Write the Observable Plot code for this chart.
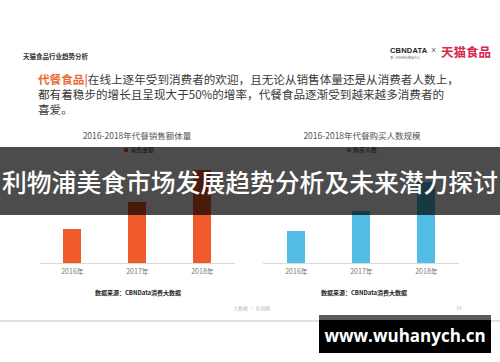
<!DOCTYPE html>
<html><head><meta charset="utf-8">
<script src="https://cdn.jsdelivr.net/npm/d3@7"></script>
<script src="https://cdn.jsdelivr.net/npm/@observablehq/plot@0.6"></script>
<style>
html,body{margin:0;padding:0;background:#fff;}
#page{position:relative;width:500px;height:362px;overflow:hidden;background:#fff;font-family:"Noto Sans CJK SC","Noto Sans",sans-serif;}
.abs{position:absolute;white-space:nowrap;}
#header{left:23px;top:51px;font-size:6.5px;font-weight:700;color:#333;}
.bl{position:absolute;left:38px;font-size:11.6px;line-height:13px;height:13px;color:#3a3a3a;white-space:nowrap;}
.bl b{color:#ea6a33;font-weight:700;}
#logo1{left:390px;top:46px;font-size:7.5px;font-weight:700;color:#222;letter-spacing:0.2px;font-family:"Liberation Sans",sans-serif;}
#logo1s{left:390px;top:56px;font-size:3px;color:#777;}
#logox{left:431px;top:45px;font-size:9px;color:#666;font-family:"Liberation Sans",sans-serif;}
#logo2{left:441px;top:42px;font-size:12.5px;font-weight:700;color:#d8284f;}
.ctitle{font-size:8.5px;color:#555;transform:translateX(-50%);top:129px;}
.legend{font-size:6px;color:#444;top:145px;}
.legend span{display:inline-block;width:4px;height:4px;margin-right:2px;vertical-align:middle;}
.source{font-size:6px;color:#222;font-weight:700;transform:translateX(-50%);top:288px;}
.plotbox{position:absolute;top:163px;}
#banner{left:0;top:147px;width:500px;height:68px;background:rgba(0,0,0,0.7);z-index:10;}
#bannertext{left:50%;top:147px;height:68px;line-height:68px;transform:translateX(-50%);font-size:24.8px;color:#fff;font-weight:500;z-index:11;}
#foot{left:233px;top:304px;font-size:5px;color:#bbb;}
#pageno{left:456px;top:304px;font-size:5px;color:#bbb;}
#hline{left:0;top:320px;width:500px;height:2px;background:#e2e2e2;}
#wm{left:319px;top:315px;width:172px;height:38px;background:#000;z-index:12;}
#wmtop{left:319px;top:315px;width:172px;height:5px;background:#5a5a5a;z-index:13;}
#wmtext{left:319px;top:318px;width:172px;height:35px;line-height:35px;text-align:center;font-size:17px;font-weight:700;color:#fff;z-index:14;font-family:"Open Sans","DejaVu Sans",sans-serif;}
</style></head>
<body>
<div id="page">
  <div class="abs" id="header">天猫食品行业趋势分析</div>
  <div class="bl" style="top:72.5px"><b>代餐食品|</b>在线上逐年受到消费者的欢迎，且无论从销售体量还是从消费者人数上，</div>
  <div class="bl" style="top:87.5px">都有着稳步的增长且呈现大于50%的增率，代餐食品逐渐受到越来越多消费者的</div>
  <div class="bl" style="top:102.5px">喜爱。</div>
  <div class="abs" id="logo1">CBNDATA</div>
  <div class="abs" id="logo1s">第一财经商业数据中心</div>
  <div class="abs" id="logox">×</div>
  <div class="abs" id="logo2">天猫食品</div>
  <div class="abs ctitle" id="t1" style="left:137px"></div>
  <div class="abs ctitle" id="t2" style="left:362px"></div>
  <div class="abs legend" id="l1" style="left:124px"></div>
  <div class="abs legend" id="l2" style="left:347px"></div>
  <div class="plotbox" id="p1" style="left:0px"></div>
  <div class="plotbox" id="p2" style="left:250px"></div>
  <div class="abs source" style="left:138px">数据来源：CBNData消费大数据</div>
  <div class="abs source" style="left:364px">数据来源：CBNData消费大数据</div>
  <div class="abs" id="banner"></div>
  <div class="abs" id="bannertext">利物浦美食市场发展趋势分析及未来潜力探讨</div>
  <div class="abs" id="foot">大数据 · 全洞察</div>
  <div class="abs" id="pageno">14</div>
  <div class="abs" id="hline"></div>
  <div class="abs" id="wm"></div>
  <div class="abs" id="wmtop"></div>
  <div class="abs" id="wmtext">www.wuhanych.cn</div>
</div>
<script>
const years = ["2016年", "2017年", "2018年"];
const salesValues = [34, 61, 93];   // 代餐销售额体量 (relative)
const buyerValues = [32, 52, 81];   // 代餐购买人数规模 (relative)
const titles = ["2016-2018年代餐销售额体量", "2016-2018年代餐购买人数规模"];
const legends = ["消费金额", "购买人数"];
const colors = ["#f15a2b", "#52bde5"];

function chart(values, color, ml, mr) {
  const data = years.map((y, i) => ({year: y, value: values[i]}));
  return Plot.plot({
    width: 250, height: 122,
    marginLeft: ml, marginRight: mr, marginTop: 0, marginBottom: 22,
    x: {domain: years, paddingInner: 0.72, paddingOuter: 0.36, tickSize: 0, tickPadding: 6, label: null},
    y: {domain: [0, 100], axis: null},
    style: {fontFamily: '"Noto Sans CJK SC", sans-serif', fontSize: "7px", color: "#777", background: "transparent", overflow: "visible"},
    marks: [
      Plot.barY(data, {x: "year", y: "value", fill: color}),
      Plot.ruleY([0], {stroke: "#d8d8d8", strokeWidth: 1})
    ]
  });
}

document.getElementById("p1").appendChild(chart(salesValues, colors[0], 40, 15));
document.getElementById("p2").appendChild(chart(buyerValues, colors[1], 13, 41));
document.getElementById("t1").textContent = titles[0];
document.getElementById("t2").textContent = titles[1];
document.getElementById("l1").innerHTML = `<span style="background:${colors[0]}"></span>${legends[0]}`;
document.getElementById("l2").innerHTML = `<span style="background:${colors[1]}"></span>${legends[1]}`;
</script>
</body></html>
